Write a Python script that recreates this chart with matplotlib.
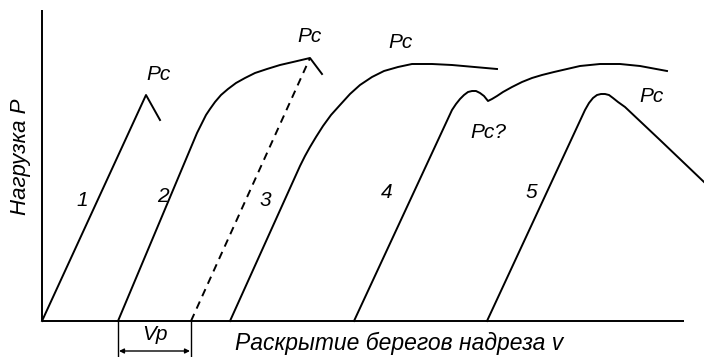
import matplotlib.pyplot as plt

# схема: раскрытие берегов надреза v (гориз.) и нагрузка P (верт.), условные единицы
c1_v = [0, 104, 118]
c1_p = [0, 226, 201]

c2_v = [76, 155, 158, 161, 164, 168, 173, 179, 186, 194, 203, 213, 225, 238, 251, 268, 280]
c2_p = [0, 188, 194, 200, 206, 212, 219, 226, 232, 238, 243, 248, 252, 256, 259, 263, 247]

dash_v = [149, 268]
dash_p = [0, 263]

c3_v = [188, 258, 263, 268, 274, 281, 289, 298, 308, 318, 330, 342, 356, 370, 390, 410, 455]
c3_p = [0, 155, 165, 174, 184, 195, 206, 216, 227, 236, 244, 250, 254, 257, 257, 256, 252]

c4_v = [312, 410, 414, 418, 422, 426, 430, 434, 438, 442, 446, 450, 455, 461, 470, 480, 490,
        500, 512, 525, 538, 558, 578, 598, 625]
c4_p = [0, 211, 217, 222, 226, 229, 230, 230, 228, 225, 220, 222, 225, 229, 234, 239, 243,
        246, 249, 252, 255, 257, 257, 255, 250]

c5_v = [445, 543, 547, 551, 555, 559, 563, 567, 571, 576, 583, 618, 662]
c5_p = [0, 211, 218, 223, 226, 227, 227, 226, 223, 219, 214, 181, 139]

vp_start = 76
vp_end = 149

pc_labels = ["Pc", "Pc", "Pc", "Pc?", "Pc"]
pc_v = [117, 268, 359, 446, 610]
pc_p = [246, 284, 278, 189, 224]

num_labels = ["1", "2", "3", "4", "5"]
num_v = [40, 121, 223, 345, 489]
num_p = [121, 124, 121, 128, 128]

FONT = "Liberation Sans"
LW = 1.4

fig = plt.figure(figsize=(7.04, 3.57), dpi=100)
ax = fig.add_axes([0, 0, 1, 1])
ax.set_xlim(-42, 662)
ax.set_ylim(-36, 321)
ax.axis("off")

# оси
ax.plot([0, 0], [0, 311], color="black", lw=LW, solid_capstyle="butt")
ax.plot([0, 642], [0, 0], color="black", lw=LW, solid_capstyle="butt")

for v, p in [(c1_v, c1_p), (c2_v, c2_p), (c3_v, c3_p), (c4_v, c4_p), (c5_v, c5_p)]:
    ax.plot(v, p, color="black", lw=LW, solid_joinstyle="round")
ax.plot(dash_v, dash_p, color="black", lw=LW, ls=(0, (4, 3)))

for txt, x, y in zip(pc_labels, pc_v, pc_p):
    ax.text(x, y, txt, fontsize=15, style="italic", family=FONT, ha="center", va="center")
for txt, x, y in zip(num_labels, num_v, num_p):
    ax.text(x, y, txt, fontsize=15, style="italic", family=FONT, ha="center", va="center")

# Vp
ax.plot([vp_start, vp_start], [0, -36], color="black", lw=1.0)
ax.plot([vp_end, vp_end], [0, -36], color="black", lw=1.0)
ax.annotate("", xy=(vp_start + 1, -30), xytext=(vp_end - 1, -30),
            arrowprops=dict(arrowstyle="<|-|>", color="black", lw=1.0,
                            mutation_scale=7, shrinkA=0, shrinkB=0))
ax.text((vp_start + vp_end) / 2, -14, "Vp", fontsize=15, style="italic",
        family=FONT, ha="center", va="center")

ax.text(357, -22, "Раскрытие берегов надреза v", fontsize=16.5, style="italic",
        family=FONT, ha="center", va="center")
ax.text(-21, 164, "Нагрузка Р", fontsize=16, style="italic", family=FONT,
        ha="center", va="center", rotation=90)

fig.savefig("out.png", dpi=100, facecolor="white")
